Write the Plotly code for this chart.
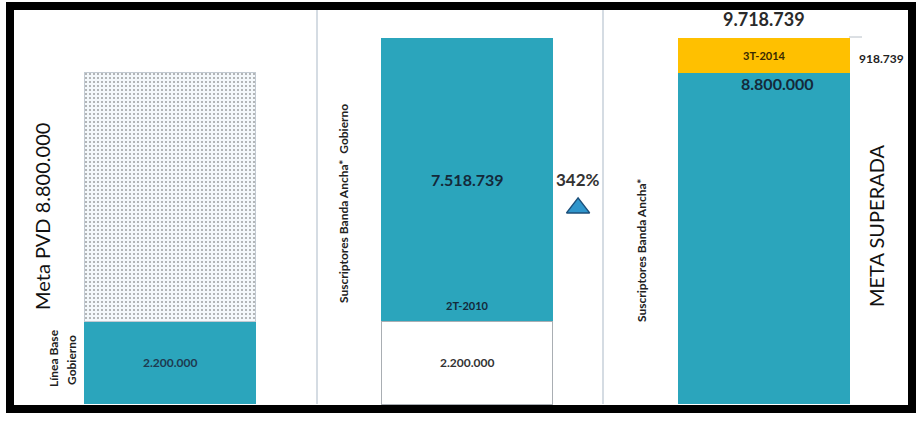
import plotly.graph_objects as go

# ---- data ----
categories = ["Meta PVD", "2T-2010", "3T-2014"]
base_values = [2200000, 2200000, 8800000]
top_values = [6600000, 7518739, 918739]
base_labels = ["2.200.000", "2.200.000", "8.800.000"]
top_labels = ["", "7.518.739", "918.739"]
total_label = "9.718.739"
growth_label = "342%"

W, H = 921, 421
TEAL = "#2BA5BC"
ORANGE = "#FFC000"
NAVY = "#14293A"
FONT = "Lato"

def px(x):
    return x / W

def py(y):
    return 1 - y / H

xs = list(range(len(categories)))

fig = go.Figure()
fig.add_trace(go.Bar(
    x=xs, y=base_values, width=0.576,
    marker=dict(color=[TEAL, "#FFFFFF", TEAL],
                line=dict(color=[TEAL, "#A9AEB3", TEAL], width=[0, 1, 0])),
    hoverinfo="skip", showlegend=False,
))
fig.add_trace(go.Bar(
    x=xs, y=top_values, width=0.576,
    marker=dict(color=["#F4F8FB", TEAL, ORANGE],
                line=dict(color=["#C2CAD2", TEAL, ORANGE], width=[1, 0, 0]),
                pattern=dict(shape=[".", "", ""],
                             fgcolor=["#E3EAEF", TEAL, ORANGE],
                             bgcolor=["#F6F9FB", TEAL, ORANGE],
                             size=4, solidity=0.2)),
    hoverinfo="skip", showlegend=False,
))

# triangle indicator between panel 2 and 3
tri_x = 1.374
fig.add_trace(go.Scatter(
    x=[tri_x], y=[base_values[1] + top_values[1] * 0.40],
    mode="markers",
    marker=dict(symbol="triangle-up", size=20, color="#3096CC",
                line=dict(color="#1B4F7A", width=1.5)),
    hoverinfo="skip", showlegend=False,
))

ann = []
def A(text, x, y, size, color=NAVY, bold=True, angle=0, xref="x", yref="y", **kw):
    kw.setdefault("xanchor", "center")
    kw.setdefault("yanchor", "middle")
    ann.append(dict(text=f"<b>{text}</b>" if bold else text, x=x, y=y, xref=xref, yref=yref,
                    showarrow=False, textangle=angle,
                    font=dict(family=FONT, size=size, color=color), **kw))

# panel 1
A(base_labels[0], 0, base_values[0] / 2, 12, color="#1E3A50")
A("Meta PVD 8.800.000", px(42), py(217), 20, color="#111111", bold=False, angle=-90,
  xref="paper", yref="paper")
A("Línea Base", px(53), py(358), 12, color="#222222", angle=-90, xref="paper", yref="paper")
A("Gobierno", px(71), py(360), 12, color="#222222", angle=-90, xref="paper", yref="paper")

# panel 2
A(top_labels[1], 1, base_values[1] + top_values[1] / 2, 16)
A(categories[1], 1, base_values[1], 11, yanchor="bottom", yshift=7)
A(base_labels[1], 1, base_values[1] / 2, 12, color="#333333")
A(growth_label, tri_x, base_values[1] + top_values[1] / 2, 17, color="#333333")
A("Suscriptores Banda Ancha*  Gobierno", px(343), py(204), 12, color="#222222",
  angle=-90, xref="paper", yref="paper")

# panel 3
A(total_label, 2, base_values[2] + top_values[2], 18, color="#2A2A2A",
  yanchor="bottom", yshift=6)
A(categories[2], 2, base_values[2] + top_values[2] / 2, 11, color="#3A2A00")
A(base_labels[2], 2, base_values[2], 16, yanchor="top", xshift=13, yshift=1)
A(top_labels[2], 2.394, base_values[2] + top_values[2] / 2, 12, color="#222222", yshift=-3)
A("Suscriptores Banda Ancha*", px(641), py(251), 12, color="#222222",
  angle=-90, xref="paper", yref="paper")
A("META SUPERADA", px(876), py(226), 20, color="#111111", bold=False, angle=-90,
  xref="paper", yref="paper")

shapes = [
    dict(type="line", xref="paper", yref="paper", x0=px(317), x1=px(317),
         y0=py(404), y1=py(10), line=dict(color="#C7D0DA", width=1.5)),
    dict(type="line", xref="paper", yref="paper", x0=px(603), x1=px(603),
         y0=py(404), y1=py(10), line=dict(color="#C7D0DA", width=1.5)),
    dict(type="line", xref="paper", yref="paper", x0=px(849), x1=px(862),
         y0=py(37), y1=py(37), line=dict(color="#B8C0C8", width=1)),
    dict(type="rect", xref="paper", yref="paper", x0=px(10), x1=px(912),
         y0=py(409), y1=py(6), line=dict(color="#000000", width=8)),
]

fig.update_layout(
    width=W, height=H, barmode="stack",
    margin=dict(l=0, r=0, t=0, b=0),
    paper_bgcolor="white", plot_bgcolor="white",
    xaxis=dict(range=[-0.5724, 2.5286], visible=False, fixedrange=True),
    yaxis=dict(range=[-451400, 10727000], visible=False, fixedrange=True),
    annotations=ann, shapes=shapes,
)

fig.write_html("out.html")
